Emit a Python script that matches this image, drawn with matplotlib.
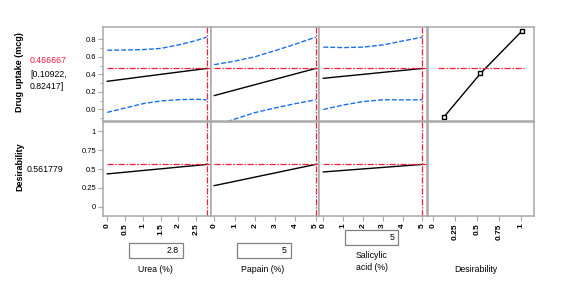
import numpy as np
import matplotlib.pyplot as plt
from matplotlib.patches import Rectangle

plt.rcParams['font.family'] = ['Liberation Sans', 'DejaVu Sans']

# ===============================
# DATA (read from the profiler)
# ===============================

urea_x = [0, 0.5, 1.0, 1.5, 2.0, 2.5, 2.8]
urea_pred = [0.320, 0.346, 0.373, 0.399, 0.425, 0.451, 0.467]
urea_upper = [0.675, 0.677, 0.682, 0.695, 0.735, 0.785, 0.824]
urea_lower = [-0.035, 0.015, 0.064, 0.095, 0.110, 0.115, 0.109]
urea_desir = [0.436, 0.458, 0.481, 0.503, 0.526, 0.548, 0.562]

papain_x = [0, 1, 2, 3, 4, 5]
papain_pred = [0.157, 0.219, 0.281, 0.343, 0.405, 0.467]
papain_upper = [0.51, 0.55, 0.60, 0.67, 0.745, 0.824]
papain_lower = [-0.196, -0.112, -0.038, 0.016, 0.065, 0.109]
papain_desir = [0.28, 0.336, 0.393, 0.449, 0.506, 0.562]

salic_x = [0, 1, 2, 3, 4, 5]
salic_pred = [0.354, 0.377, 0.399, 0.422, 0.444, 0.467]
salic_upper = [0.71, 0.705, 0.71, 0.735, 0.78, 0.824]
salic_lower = [-0.002, 0.049, 0.088, 0.109, 0.108, 0.109]
salic_desir = [0.462, 0.482, 0.502, 0.522, 0.542, 0.562]

desir_fn_x = [0.12, 0.54, 1.02]
desir_fn_y = [-0.09, 0.41, 0.90]

current_x = [2.8, 5, 5]
current_y = 0.466667
current_ci = "[0.10922,\n0.82417]"
current_d = 0.561779

factor_names = ["Urea (%)", "Papain (%)", "Salicylic\nacid (%)"]
factor_ticks = [[0, 0.5, 1, 1.5, 2, 2.5], [0, 1, 2, 3, 4, 5], [0, 1, 2, 3, 4, 5]]
factor_ticklabels = [["0", "0.5", "1", "1.5", "2", "2.5"],
                     ["0", "1", "2", "3", "4", "5"],
                     ["0", "1", "2", "3", "4", "5"]]
factor_xlim = [(-0.12, 2.92), (-0.16, 5.16), (-0.22, 5.26)]
desir_ticks = [0, 0.25, 0.5, 0.75, 1]
desir_ticklabels = ["0", "0.25", "0.5", "0.75", "1"]
resp_ticks = [0.0, 0.2, 0.4, 0.6, 0.8]
resp_ticklabels = ["0.0", "0.2", "0.4", "0.6", "0.8"]
d_ticks = [0, 0.25, 0.5, 0.75, 1]
d_ticklabels = ["0", "0.25", "0.5", "0.75", "1"]

# ===============================
# STYLE
# ===============================

W, H = 561, 299
RED = "#f0203c"
BLUE = "#1a6ef0"
GREY = "#a8a8a8"
RED_DASH = (0, (5, 1.3, 1.2, 1.3))
BLUE_DASH = (0, (3.5, 1.5))

fig = plt.figure(figsize=(W / 100, H / 100), dpi=100)


def px_axes(x0, y0, x1, y1):
    return fig.add_axes([x0 / W, 1 - y1 / H, (x1 - x0) / W, (y1 - y0) / H])


def style(ax):
    for s in ax.spines.values():
        s.set_color(GREY)
        s.set_linewidth(1.1)
    ax.tick_params(colors=GREY, labelcolor="black", length=3.5, width=0.8,
                   labelsize=5.5, pad=1.5)
    ax.tick_params(axis="x", labelsize=6, pad=2)
    ax.tick_params(which="minor", colors=GREY, length=2.5, width=0.8)


col_edges = [103, 211, 319, 427.5, 534]
top_row = (27, 120.7)
bot_row = (121.7, 216)

factors = [
    (urea_x, urea_pred, urea_upper, urea_lower, urea_desir),
    (papain_x, papain_pred, papain_upper, papain_lower, papain_desir),
    (salic_x, salic_pred, salic_upper, salic_lower, salic_desir),
]

for i, (xs, pred, up, lo, des) in enumerate(factors):
    x0, x1 = col_edges[i], col_edges[i + 1]
    lim = factor_xlim[i]

    # ---------- response row ----------
    ax = px_axes(x0, top_row[0], x1, top_row[1])
    style(ax)
    ax.plot(xs, up, color=BLUE, lw=1.0, ls=BLUE_DASH)
    ax.plot(xs, lo, color=BLUE, lw=1.0, ls=BLUE_DASH)
    ax.plot(xs, pred, color="black", lw=1.0)
    ax.hlines(current_y, 0, lim[1], color=RED, lw=0.9, ls=RED_DASH)
    ax.axvline(current_x[i], color=RED, lw=0.9, ls=RED_DASH)
    ax.set_xlim(lim)
    ax.set_ylim(-0.13, 0.94)
    ax.set_xticks([])
    if i == 0:
        ax.set_yticks(resp_ticks)
        ax.set_yticklabels(resp_ticklabels)
        ax.set_yticks(np.arange(-0.1, 0.85, 0.1), minor=True)
    else:
        ax.set_yticks([])

    # ---------- desirability row ----------
    ax = px_axes(x0, bot_row[0], x1, bot_row[1])
    style(ax)
    ax.plot(xs, des, color="black", lw=1.0)
    ax.hlines(current_d, 0, lim[1], color=RED, lw=0.9, ls=RED_DASH)
    ax.axvline(current_x[i], color=RED, lw=0.9, ls=RED_DASH)
    ax.set_xlim(lim)
    ax.set_ylim(-0.124, 1.13)
    ax.set_xticks(factor_ticks[i])
    ax.set_xticklabels(factor_ticklabels[i], rotation=90, fontweight="bold")
    if i == 0:
        ax.set_yticks(d_ticks)
        ax.set_yticklabels(d_ticklabels)
    else:
        ax.set_yticks([])

# ---------- desirability function column ----------
ax = px_axes(col_edges[3], top_row[0], col_edges[4], top_row[1])
style(ax)
ax.plot(desir_fn_x, desir_fn_y, color="black", lw=1.0, marker="s",
        markersize=3.5, markerfacecolor="white", markeredgecolor="black",
        markeredgewidth=1.0)
ax.hlines(current_y, 0.057, 1.04, color=RED, lw=0.9, ls=RED_DASH)
ax.set_xlim(-0.066, 1.152)
ax.set_ylim(-0.13, 0.94)
ax.set_xticks([])
ax.set_yticks([])

ax = px_axes(col_edges[3], bot_row[0], col_edges[4], bot_row[1])
style(ax)
ax.set_xlim(-0.066, 1.152)
ax.set_ylim(-0.124, 1.13)
ax.set_xticks(desir_ticks)
ax.set_xticklabels(desir_ticklabels, rotation=90, fontweight="bold")
ax.set_yticks([])

# ===============================
# TEXTS
# ===============================

def ftext(x, y, s, **kw):
    fig.text(x / W, 1 - y / H, s, **kw)


ftext(20, 72, "Drug uptake (mcg)", rotation=90, fontsize=6.5,
      fontweight="bold", ha="center", va="center")
ftext(20, 167, "Desirability", rotation=90, fontsize=6.5,
      fontweight="bold", ha="center", va="center")
ftext(30, 60.5, f"{current_y:.6f}", color=RED, fontsize=6.3, ha="left", va="center")
ftext(30, 80.5, current_ci, color="black", fontsize=6.3, ha="left", va="center",
      linespacing=1.45)
ftext(27, 170, f"{current_d:.6f}", color="black", fontsize=6.3, ha="left", va="center")

# value boxes under each factor
boxes = [(129.3, 242.7, 182.7, 258.3), (237.3, 243.3, 290.7, 258.3),
         (345.3, 230, 398.3, 245)]
box_text = ["2.8", "5", "5"]
for (bx0, by0, bx1, by1), t in zip(boxes, box_text):
    fig.add_artist(Rectangle((bx0 / W, 1 - by1 / H), (bx1 - bx0) / W,
                             (by1 - by0) / H, transform=fig.transFigure,
                             fill=False, edgecolor="#808080", lw=0.9))
    ftext(bx1 - 4, (by0 + by1) / 2, t, fontsize=6.3, ha="right", va="center")

ftext(155, 269, factor_names[0], fontsize=6.3, ha="center", va="center")
ftext(263, 269, factor_names[1], fontsize=6.3, ha="center", va="center")
ftext(371.7, 261.5, factor_names[2], fontsize=6.3, ha="center", va="center",
      linespacing=1.5)
ftext(475.7, 269, "Desirability", fontsize=6.3, ha="center", va="center")

fig.savefig("out.png", dpi=100)
